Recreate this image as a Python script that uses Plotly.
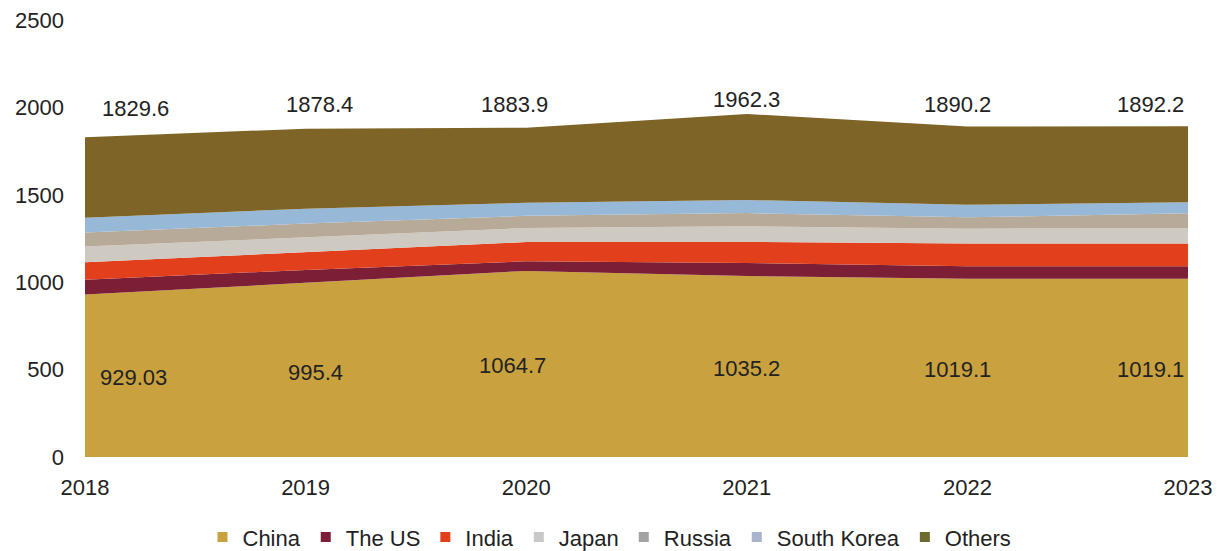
import plotly.graph_objects as go

years = [2018, 2019, 2020, 2021, 2022, 2023]
year_labels = ["2018", "2019", "2020", "2021", "2022", "2023"]

china = [929.03, 995.4, 1064.7, 1035.2, 1019.1, 1019.1]
the_us = [85, 75, 55, 75, 72, 72]
india = [100, 100, 110, 120, 130, 130]
japan = [90, 85, 80, 90, 85, 88]
russia = [80, 80, 70, 75, 65, 85]
south_korea = [85, 85, 75, 75, 72, 63]
others = [460.57, 458.0, 429.2, 492.1, 447.1, 435.1]

series = [
    ("China", china, "#C9A23F", "#C9A23F"),
    ("The US", the_us, "#7C1E36", "#7C1E36"),
    ("India", india, "#E2401C", "#E2401C"),
    ("Japan", japan, "#CECAC2", "#C8C8C8"),
    ("Russia", russia, "#B8AA98", "#A3A3A3"),
    ("South Korea", south_korea, "#98B8D8", "#A7B4CC"),
    ("Others", others, "#7E6426", "#6E6A2E"),
]

FONT = "Liberation Sans, Arial, sans-serif"
TEXT = "#222222"
FS = 22

fig = go.Figure()
for name, vals, fill, legend_col in series:
    fig.add_trace(go.Scatter(
        x=years, y=vals, name=name, stackgroup="all", mode="lines",
        line=dict(width=0, color=fill), fillcolor=fill,
        showlegend=False, hoverinfo="x+y+name",
    ))
for name, vals, fill, legend_col in series:
    fig.add_trace(go.Scatter(
        x=[None], y=[None], name=name, mode="markers",
        marker=dict(symbol="square", size=10, color=legend_col),
        showlegend=True,
    ))

totals = [sum(v[i] for _, v, _, _ in series) for i in range(len(years))]
total_shift = [50, 14, -12, 0, -10, -38]
total_yshift = [29, 24, 23, 14, 22, 22]
china_shift = [48, 10, -14, 0, -10, -38]
for i, yr in enumerate(years):
    fig.add_annotation(x=yr, y=totals[i], text=f"{totals[i]:.1f}", showarrow=False,
                       xshift=total_shift[i], yshift=total_yshift[i],
                       font=dict(family=FONT, size=FS, color=TEXT))
    fig.add_annotation(x=yr, y=china[i] / 2, text=f"{china[i]:g}", showarrow=False,
                       xshift=china_shift[i], yshift=-2,
                       font=dict(family=FONT, size=FS, color=TEXT))

fig.update_layout(
    width=1219, height=551,
    margin=dict(l=85, r=31, t=20, b=94, autoexpand=False),
    paper_bgcolor="white", plot_bgcolor="white",
    font=dict(family=FONT, size=FS, color=TEXT),
    xaxis=dict(range=[2018, 2023], tickvals=years, ticktext=year_labels,
               showgrid=False, zeroline=False, showline=False, ticks="",
               ticklabelstandoff=15, tickfont=dict(size=FS)),
    yaxis=dict(range=[0, 2500], tickvals=[0, 500, 1000, 1500, 2000, 2500],
               showgrid=False, zeroline=False, showline=False, ticks="",
               ticklabelstandoff=20, tickfont=dict(size=FS)),
    legend=dict(orientation="h", traceorder="normal",
                x=0.5, xanchor="center", xref="container",
                y=0.025, yanchor="middle", yref="container",
                font=dict(size=FS), itemwidth=30, tracegroupgap=0,
                bgcolor="rgba(0,0,0,0)"),
    showlegend=True,
)

fig.write_html("out.html")
